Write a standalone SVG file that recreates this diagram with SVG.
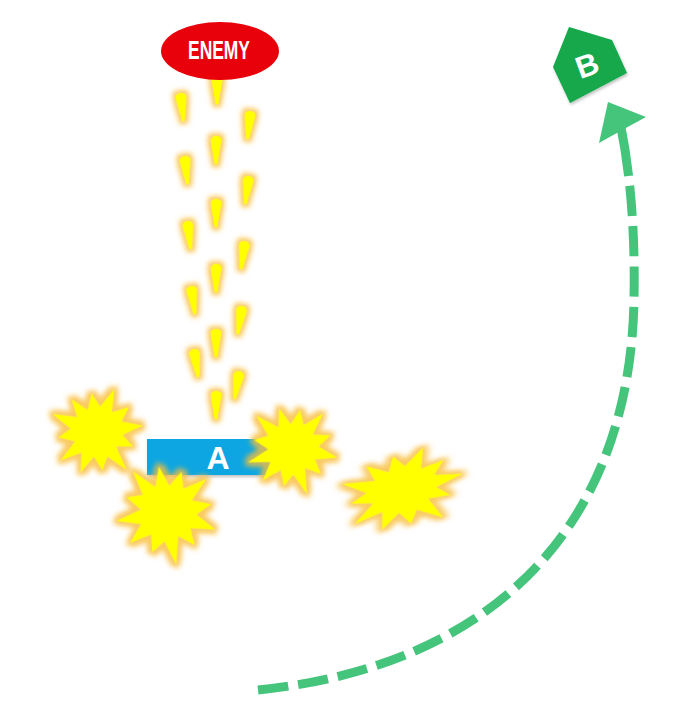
<svg xmlns="http://www.w3.org/2000/svg" xmlns:xlink="http://www.w3.org/1999/xlink" width="676" height="724" viewBox="0 0 676 724">
<style>
.lbl{font-family:"Liberation Sans",Arial,sans-serif;font-weight:bold;fill:#ffffff;text-anchor:middle}
.bullet{fill:#ffff00;filter:url(#glowS)}
.burst{fill:#ffff00;filter:url(#glowL)}
.route{fill:none;stroke:#45c47b;stroke-width:9}
</style>
<defs>
<filter id="glowS" x="-100%" y="-60%" width="300%" height="220%">
<feMorphology in="SourceAlpha" operator="dilate" radius="2.6" result="d"/>
<feGaussianBlur in="d" stdDeviation="2.2" result="b"/>
<feFlood flood-color="#f8bd38" flood-opacity="0.8"/>
<feComposite in2="b" operator="in" result="g"/>
<feMerge><feMergeNode in="g"/><feMergeNode in="SourceGraphic"/></feMerge>
</filter>
<filter id="glowL" x="-30%" y="-30%" width="160%" height="160%">
<feMorphology in="SourceAlpha" operator="dilate" radius="4" result="d"/>
<feGaussianBlur in="d" stdDeviation="2.8" result="b"/>
<feFlood flood-color="#f8bd38" flood-opacity="0.8"/>
<feComposite in2="b" operator="in" result="g"/>
<feMerge><feMergeNode in="g"/><feMergeNode in="SourceGraphic"/></feMerge>
</filter>
<filter id="shadow" x="-20%" y="-20%" width="140%" height="160%">
<feGaussianBlur in="SourceAlpha" stdDeviation="1.5"/>
<feOffset dx="1" dy="2" result="o"/>
<feFlood flood-color="#000" flood-opacity="0.25"/>
<feComposite in2="o" operator="in" result="s"/>
<feMerge><feMergeNode in="s"/><feMergeNode in="SourceGraphic"/></feMerge>
</filter>
<path id="drop" d="M-4.5,-8 C-4.5,-13 4.5,-13 4.5,-8 L1.2,11 Q0,13 -1.2,11 Z"/>
<polygon id="star" points="50,0 27,7.2 36.4,21 18.4,18.4 26,45 7.5,28 0,42 -7,26 -23.5,40.7 -19.8,19.8 -43.3,25 -25,6.7 -42,0 -28,-7.5 -45,-26 -19.1,-19.1 -22.5,-39 -6.7,-25 0,-42 7.2,-27 25,-43.3 19.1,-19.1 38.1,-22 28,-7.5"/>
</defs>

<g id="connectors">
<path class="route" pathLength="720" stroke-dasharray="30 10" d="M258,690 C500,665 630,520 634,300 Q635.3,233 628.6,175.9"/>
<path class="route" d="M628.6,175.9 Q625.3,147.7 620,122"/>
<polygon points="608,102 646,117 624,129 599,143" fill="#45c47b"/>
</g>

<g id="bullets">
<use xlink:href="#drop" class="bullet" transform="translate(217,90) scale(1.2)"/>
<use xlink:href="#drop" class="bullet" transform="translate(216,150) scale(1.2)"/>
<use xlink:href="#drop" class="bullet" transform="translate(216,213) scale(1.2)"/>
<use xlink:href="#drop" class="bullet" transform="translate(216,278) scale(1.2)"/>
<use xlink:href="#drop" class="bullet" transform="translate(216,343) scale(1.2)"/>
<use xlink:href="#drop" class="bullet" transform="translate(216,405) scale(1.2)"/>
<use xlink:href="#drop" class="bullet" transform="translate(182,107) rotate(-6) scale(1.2)"/>
<use xlink:href="#drop" class="bullet" transform="translate(186,170) rotate(-6) scale(1.2)"/>
<use xlink:href="#drop" class="bullet" transform="translate(189,235) rotate(-7) scale(1.2)"/>
<use xlink:href="#drop" class="bullet" transform="translate(193,300) rotate(-8) scale(1.2)"/>
<use xlink:href="#drop" class="bullet" transform="translate(196,363) rotate(-9) scale(1.2)"/>
<use xlink:href="#drop" class="bullet" transform="translate(249,125) rotate(6) scale(1.2)"/>
<use xlink:href="#drop" class="bullet" transform="translate(247,190) rotate(7) scale(1.2)"/>
<use xlink:href="#drop" class="bullet" transform="translate(243,255) rotate(8) scale(1.2)"/>
<use xlink:href="#drop" class="bullet" transform="translate(240,320) rotate(9) scale(1.2)"/>
<use xlink:href="#drop" class="bullet" transform="translate(237,385) rotate(10) scale(1.2)"/>
</g>

<g id="enemy">
<ellipse cx="220" cy="51" rx="59" ry="29" fill="#e8000b"/>
<text class="lbl" x="219" y="59" font-size="26" textLength="62" lengthAdjust="spacingAndGlyphs">ENEMY</text>
</g>

<g id="node-B">
<polygon points="569,27 612,40 627,73 570,103 553,67" fill="#12a84b" filter="url(#shadow)"/>
<text class="lbl" x="587" y="76" font-size="31" transform="rotate(-20 587 65)">B</text>
</g>

<g id="node-A">
<rect x="147" y="439" width="125" height="36" fill="#0aa6e2" filter="url(#shadow)"/>
<text class="lbl" x="218" y="469" font-size="32">A</text>
</g>

<g id="bursts">
<use xlink:href="#star" class="burst" transform="translate(97,432) rotate(-8) scale(0.92)"/>
<use xlink:href="#star" class="burst" transform="translate(292,448) rotate(12) scale(0.92)"/>
<use xlink:href="#star" class="burst" transform="translate(402,490) rotate(-15) scale(1.25,0.82)"/>
<use xlink:href="#star" class="burst" transform="translate(167,512) rotate(20) scale(1.02)"/>
</g>
</svg>
